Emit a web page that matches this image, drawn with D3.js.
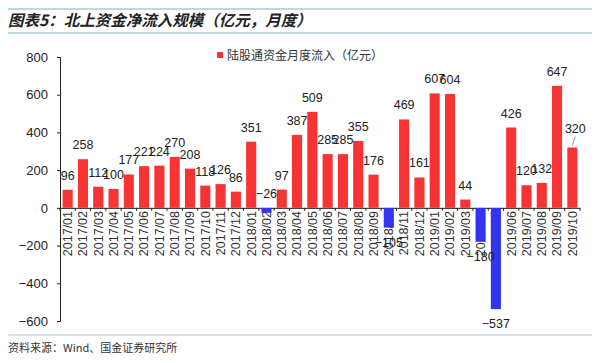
<!DOCTYPE html>
<html>
<head>
<meta charset="utf-8">
<script src="https://cdn.jsdelivr.net/npm/d3@7"></script>
<style>
  body { margin: 0; background: #fff; }
  svg { display: block; font-family: "Liberation Sans", Arial, sans-serif; }
</style>
</head>
<body>
<div id="chart"></div>
<script>
// monthly northbound net inflow, 100m CNY
const months = [
  "2017/01","2017/02","2017/03","2017/04","2017/05","2017/06","2017/07","2017/08","2017/09","2017/10","2017/11","2017/12",
  "2018/01","2018/02","2018/03","2018/04","2018/05","2018/06","2018/07","2018/08","2018/09","2018/10","2018/11","2018/12",
  "2019/01","2019/02","2019/03","2019/04","2019/05","2019/06","2019/07","2019/08","2019/09","2019/10"
];
const inflow = [
  96, 258, 112, 100, 177, 221, 224, 270, 208, 118, 126, 86,
  351, -26, 97, 387, 509, 285, 285, 355, 176, -105, 469, 161,
  607, 604, 44, -180, -537, 426, 120, 132, 647, 320
];
const yTicks = [-600, -400, -200, 0, 200, 400, 600, 800];

const W = 600, H = 363;
const margin = { left: 60, right: 20, top: 57, bottom: 42 };
const RED = "#f73333", BLUE = "#3434f0";
const CJK = "'Noto Sans CJK SC', sans-serif";

const svg = d3.select("#chart").append("svg")
  .attr("width", W).attr("height", H);

// header / footer rules
svg.append("line").attr("x1", 8).attr("x2", 592).attr("y1", 9).attr("y2", 9)
  .attr("stroke", "#a9cbd9").attr("stroke-width", 1.5);
svg.append("line").attr("x1", 8).attr("x2", 592).attr("y1", 33).attr("y2", 33)
  .attr("stroke", "#a9cbd9").attr("stroke-width", 1.5);
svg.append("line").attr("x1", 8).attr("x2", 592).attr("y1", 335).attr("y2", 335)
  .attr("stroke", "#a9cbd9").attr("stroke-width", 1);

svg.append("text")
  .attr("x", 8).attr("y", 26)
  .attr("font-family", CJK).attr("font-size", 15.5).attr("font-weight", "bold")
  .attr("font-style", "italic").attr("fill", "#222")
  .text("图表5：北上资金净流入规模（亿元，月度）");

svg.append("text")
  .attr("x", 8).attr("y", 352)
  .attr("font-family", CJK).attr("font-size", 11).attr("fill", "#333")
  .text("资料来源：Wind、国金证券研究所");

// scales
const x = d3.scaleBand().domain(months)
  .range([margin.left, 580]).paddingInner(0.34).paddingOuter(0.17);
const y = d3.scaleLinear().domain([-600, 800]).range([321, 57]);

// y axis
const yAxis = svg.append("g")
  .attr("transform", `translate(${margin.left},0)`)
  .call(d3.axisLeft(y).tickValues(yTicks).tickSize(3).tickPadding(9)
    .tickFormat(d => d < 0 ? "\u2212" + Math.abs(d) : d));
yAxis.selectAll("text").attr("font-size", 13).attr("fill", "#222");
yAxis.select(".domain").attr("stroke", "#222");
yAxis.selectAll(".tick line").attr("stroke", "#222");

// x axis on zero line
const xAxis = svg.append("g")
  .attr("transform", `translate(0,${y(0)})`)
  .call(d3.axisBottom(x).tickSize(0));
xAxis.select(".domain").attr("stroke", "#222");
xAxis.selectAll(".tick text")
  .attr("transform", "rotate(-90)")
  .attr("text-anchor", "end")
  .attr("dx", "-0.25em").attr("dy", "0.35em").attr("x", 0).attr("y", 0)
  .attr("font-size", 12.5).attr("fill", "#333");

// small separators between categories
const step = x.step();
svg.append("g").selectAll("line")
  .data(d3.range(months.length + 1))
  .join("line")
  .attr("x1", i => x(months[0]) - (step - x.bandwidth()) / 2 + i * step)
  .attr("x2", i => x(months[0]) - (step - x.bandwidth()) / 2 + i * step)
  .attr("y1", y(0)).attr("y2", y(0) + 3)
  .attr("stroke", "#222");

// bars
svg.append("g").selectAll("rect")
  .data(inflow)
  .join("rect")
  .attr("x", (d, i) => x(months[i]))
  .attr("width", x.bandwidth())
  .attr("y", d => y(Math.max(0, d)))
  .attr("height", d => Math.abs(y(d) - y(0)))
  .attr("fill", d => d >= 0 ? RED : BLUE);

// value labels
const labels = svg.append("g")
  .attr("font-size", 12.5).attr("fill", "#222").attr("text-anchor", "middle");
inflow.forEach((d, i) => {
  const cx = x(months[i]) + x.bandwidth() / 2;
  let ly;
  if (d === 320) {
    ly = y(d) - 15;
    svg.append("line")
      .attr("x1", cx).attr("y1", y(d) - 2).attr("x2", cx + 3).attr("y2", y(d) - 11)
      .attr("stroke", "#999").attr("stroke-width", 1);
  } else if (d >= 0 || d > -50) {
    ly = y(Math.max(d, 0)) - 10;
  } else {
    ly = y(d) + 19;
  }
  labels.append("text")
    .attr("x", d === 320 ? cx + 3 : cx).attr("y", ly)
    .text(d < 0 ? "\u2212" + Math.abs(d) : d);
});

// legend
svg.append("rect").attr("x", 217).attr("y", 52).attr("width", 6).attr("height", 6).attr("fill", RED);
svg.append("text").attr("x", 227).attr("y", 59.5)
  .attr("font-family", CJK).attr("font-size", 12).attr("fill", "#333")
  .text("陆股通资金月度流入（亿元）");
</script>
</body>
</html>
